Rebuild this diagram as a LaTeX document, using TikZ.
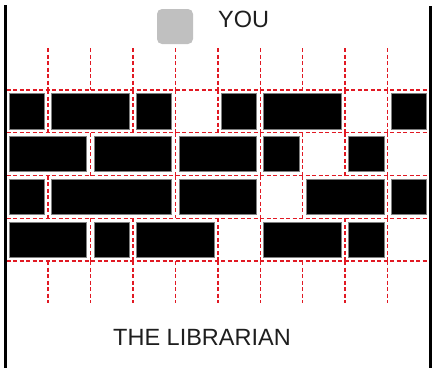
\documentclass[tikz,border=0pt]{standalone}
\usepackage{fontspec}
\setmainfont{Liberation Sans}
\definecolor{gridred}{RGB}{225,25,35}
\definecolor{youbox}{RGB}{192,192,192}
\definecolor{txt}{RGB}{30,30,30}
\begin{document}
\begin{tikzpicture}[x=1pt,y=-1pt,
  gridline/.style={gridred, line width=1.4pt, dash pattern=on 4pt off 2.5pt},
  wall/.style={black, line width=2.2pt},
  brick/.style={fill=black, draw=gray, line width=0.8pt},
  lbl/.style={font=\fontsize{23.5}{27}\selectfont, text=txt, inner sep=0pt}]
\useasboundingbox (0,0) rectangle (433,368);
% horizontal dashed lines
\foreach \r in {0,...,4}
  \draw[gridline] (6.5,{90+42.75*\r}) -- (429.5,{90+42.75*\r});
% stubs above and below
\foreach \i in {1,...,9} {
  \draw[gridline] ({5.6+42.44*\i},48) -- ({5.6+42.44*\i},90);
  \draw[gridline] ({5.6+42.44*\i},261) -- ({5.6+42.44*\i},303);
}
% separators within rows
\foreach \r/\i in {0/1,0/3,0/4,0/5,0/6,0/8,0/9,
                   1/2,1/4,1/6,1/7,1/8,1/9,
                   2/1,2/4,2/6,2/7,2/9,
                   3/2,3/3,3/5,3/6,3/8,3/9}
  \draw[gridline] ({5.6+42.44*\i},{90+42.75*\r}) -- ({5.6+42.44*\i},{90+42.75*(\r+1)});
% bricks
\foreach \r/\a/\b in {0/0/1,0/1/3,0/3/4,0/5/6,0/6/8,0/9/10,
                      1/0/2,1/2/4,1/4/6,1/6/7,1/8/9,
                      2/0/1,2/1/4,2/4/6,2/7/9,2/9/10,
                      3/0/2,3/2/3,3/3/5,3/6/8,3/8/9}
  \draw[brick] ({5.6+42.44*\a+3.6},{90+42.75*\r+3.8}) rectangle ({5.6+42.44*\b-3.6},{90+42.75*(\r+1)-3.8});
% walls
\draw[wall] (5.5,5) -- (5.5,368);
\draw[wall] (430.5,6) -- (430.5,368);
% you
\node[fill=youbox, rounded corners=5pt, minimum width=36pt, minimum height=35pt, inner sep=0pt] (youbox) at (175,26.5) {};
\node[lbl, anchor=base west] (you) at (218,27) {YOU};
\node[lbl, anchor=base west] (librarian) at (113,345) {THE LIBRARIAN};
\end{tikzpicture}
\end{document}
